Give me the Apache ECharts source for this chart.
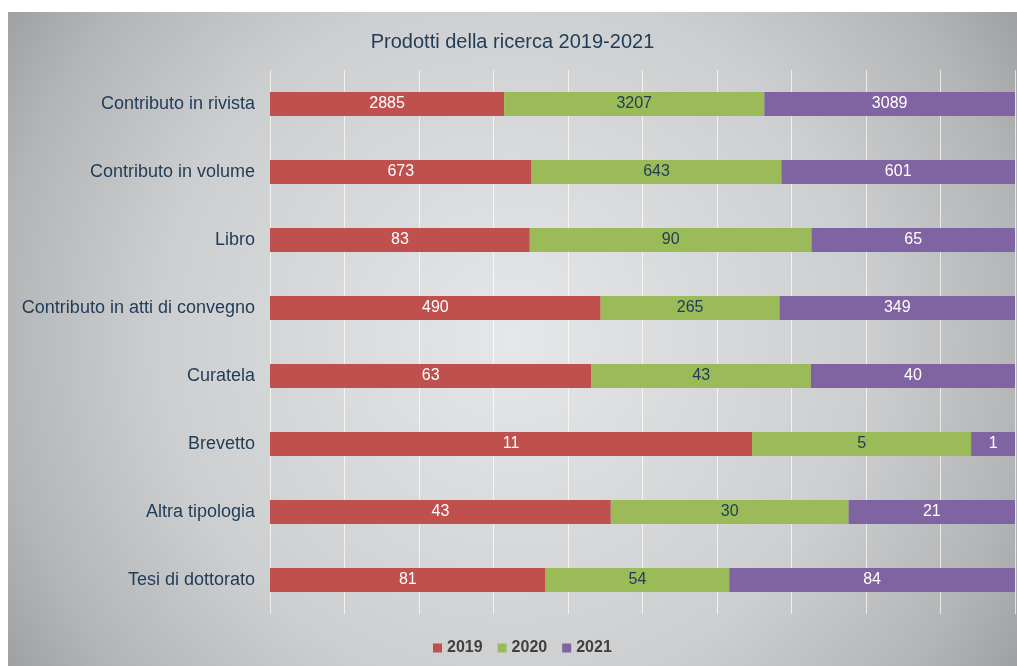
<!DOCTYPE html>
<html>
<head>
<meta charset="utf-8">
<script src="https://cdn.jsdelivr.net/npm/echarts@6/dist/echarts.min.js"></script>
<style>
  html, body { margin: 0; padding: 0; background: #fff; }
  #chart { position: absolute; left: 8px; top: 12px; width: 1009px; height: 654px; }
</style>
</head>
<body>
<div id="chart"></div>
<script>
// categorie dall'alto verso il basso
var categories = ['Contributo in rivista', 'Contributo in volume', 'Libro', 'Contributo in atti di convegno',
  'Curatela', 'Brevetto', 'Altra tipologia', 'Tesi di dottorato'];
var years = ['2019', '2020', '2021'];
var v2019 = [2885, 673, 83, 490, 63, 11, 43, 81];
var v2020 = [3207, 643, 90, 265, 43, 5, 30, 54];
var v2021 = [3089, 601, 65, 349, 40, 1, 21, 84];

var raw = [v2019, v2020, v2021];
var colors = ['#c0504d', '#9bbb59', '#8064a2'];
var labelColors = ['#ffffff', '#1f3b57', '#ffffff'];

var totals = categories.map(function (c, i) {
  return v2019[i] + v2020[i] + v2021[i];
});

var chart = echarts.init(document.getElementById('chart'));

var series = years.map(function (y, k) {
  return {
    name: y,
    type: 'bar',
    stack: 'tot',
    barWidth: '35%',
    itemStyle: { color: colors[k] },
    label: {
      show: true,
      position: 'inside',
      color: labelColors[k],
      fontSize: 16,
      fontFamily: 'Liberation Sans, Arial, sans-serif',
      formatter: function (p) { return raw[k][p.dataIndex]; }
    },
    data: raw[k].map(function (v, i) { return v / totals[i] * 100; })
  };
});

var option = {
  backgroundColor: {
    type: 'radial', x: 0.5, y: 0.5, r: 0.98,
    colorStops: [
      { offset: 0, color: '#e6e7e9' },
      { offset: 0.55, color: '#cdcecf' },
      { offset: 0.8, color: '#b4b5b7' },
      { offset: 1, color: '#96979a' }
    ]
  },
  title: {
    text: 'Prodotti della ricerca 2019-2021',
    left: 'center',
    top: 15,
    padding: [5, 0, 5, 12],
    textStyle: { color: '#1f3b57', fontSize: 20, fontWeight: 'normal', fontFamily: 'Liberation Sans, Arial, sans-serif' }
  },
  legend: {
    top: 623,
    left: 420,
    itemWidth: 9,
    itemHeight: 9,
    itemGap: 15,
    icon: 'rect',
    textStyle: { color: '#404040', fontSize: 16, fontWeight: 'bold', fontFamily: 'Liberation Sans, Arial, sans-serif' },
    data: years
  },
  grid: { left: 262, right: 2, top: 58, height: 544 },
  xAxis: {
    type: 'value',
    min: 0,
    max: 100,
    interval: 10,
    axisLabel: { show: false },
    axisLine: { show: false },
    axisTick: { show: false },
    splitLine: { lineStyle: { color: 'rgba(255,255,255,0.7)', width: 1 } }
  },
  yAxis: {
    type: 'category',
    inverse: true,
    data: categories,
    axisLine: { show: false },
    axisTick: { show: false },
    axisLabel: { color: '#1f3b57', fontSize: 18, margin: 15, fontFamily: 'Liberation Sans, Arial, sans-serif' }
  },
  series: series
};

chart.setOption(option);
</script>
</body>
</html>
